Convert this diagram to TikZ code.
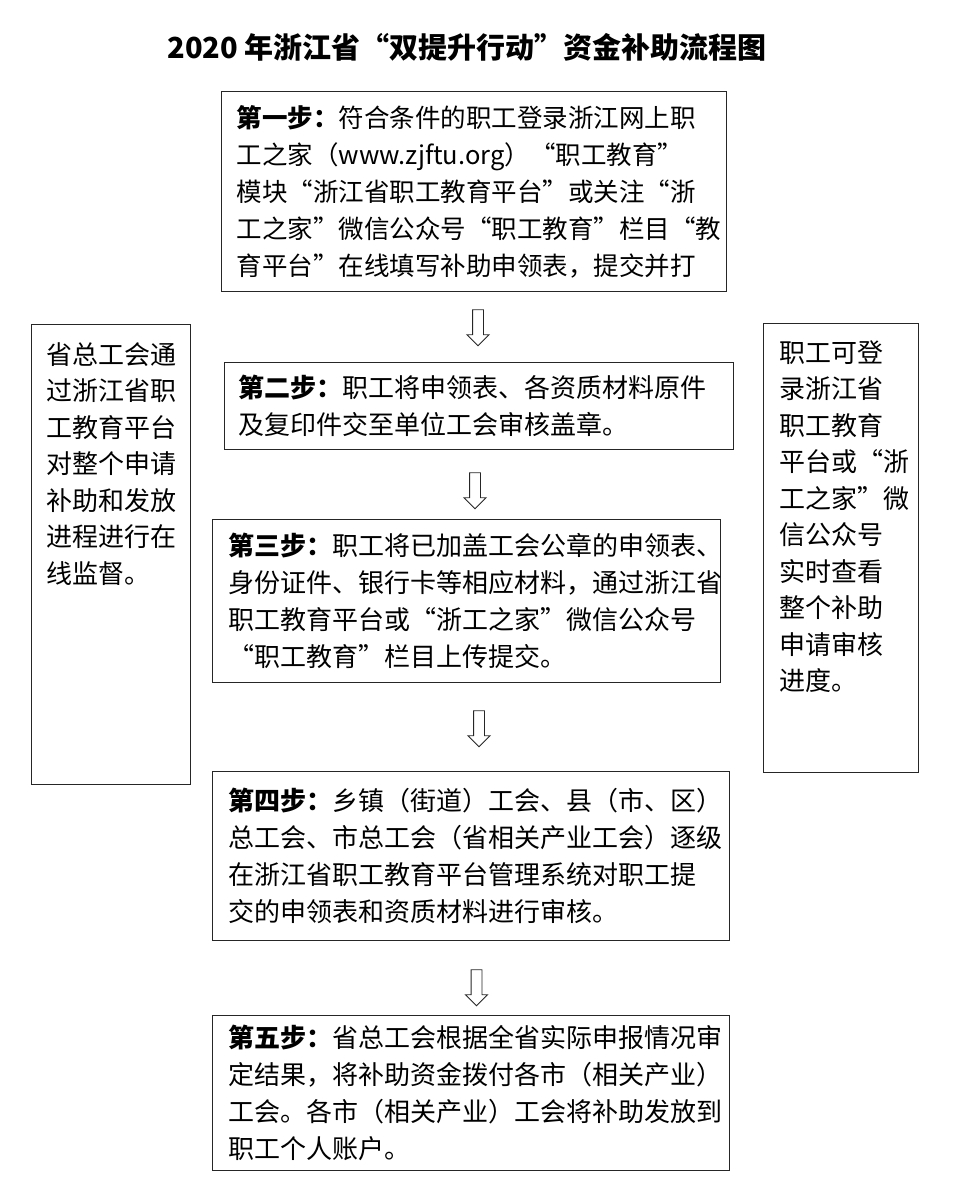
\documentclass[tikz,border=0pt]{standalone}
\usepackage{fontspec}
\setmainfont{Noto Sans CJK SC}
\usetikzlibrary{shapes.arrows}

\begin{document}
\begin{tikzpicture}[x=1pt, y=-1pt,
    stepbox/.style={draw=black!85, line width=1.3pt, anchor=north west, align=left,
        inner ysep=0pt, font=\fontsize{26}{37}\selectfont},
    sidebox/.style={draw=black!85, line width=1.3pt, anchor=north west,
        font=\fontsize{26}{36.5}\selectfont},
    downarrow/.style={draw=black!85, line width=0.9pt, single arrow, shape border rotate=270,
        minimum height=36pt, minimum width=21pt, single arrow head extend=5.5pt, inner sep=5pt}]
    \useasboundingbox (0,0) rectangle (953,1193);

    \node[font=\fontsize{29}{34}\selectfont\bfseries] (title) at (467,47)
        {2020 年浙江省“双提升行动”资金补助流程图};

    % main steps
    \node[stepbox, inner xsep=15pt, text width=475pt, minimum height=200pt,
        font=\fontsize{25.5}{37}\selectfont] (step1) at (221,91)
        {\textbf{第一步：}符合条件的职工登录浙江网上职\\
         工之家（www.zjftu.org）“职工教育”\\
         模块“浙江省职工教育平台”或关注“浙\\
         工之家”微信公众号“职工教育”栏目“教\\
         育平台”在线填写补助申领表，提交并打};
    \node[stepbox, inner xsep=14pt, text width=481pt, minimum height=87pt] (step2) at (224,362)
        {\textbf{第二步：}职工将申领表、各资质材料原件\\
         及复印件交至单位工会审核盖章。};
    \node[stepbox, inner xsep=16pt, text width=476pt, minimum height=163pt] (step3) at (212,519)
        {\textbf{第三步：}职工将已加盖工会公章的申领表、\\
         身份证件、银行卡等相应材料，通过浙江省\\
         职工教育平台或“浙工之家”微信公众号\\
         “职工教育”栏目上传提交。};
    \node[stepbox, inner xsep=16pt, text width=485pt, minimum height=169pt] (step4) at (212,771)
        {\textbf{第四步：}乡镇（街道）工会、县（市、区）\\
         总工会、市总工会（省相关产业工会）逐级\\
         在浙江省职工教育平台管理系统对职工提\\
         交的申领表和资质材料进行审核。};
    \node[stepbox, inner xsep=16pt, text width=485pt, minimum height=155pt] (step5) at (212,1015)
        {\textbf{第五步：}省总工会根据全省实际申报情况审\\
         定结果，将补助资金拨付各市（相关产业）\\
         工会。各市（相关产业）工会将补助发放到\\
         职工个人账户。};

    % hollow arrows between the steps
    \node[downarrow] (arr1) at (478,325) {};
    \node[downarrow] (arr2) at (475,488) {};
    \node[downarrow] (arr3) at (479,726) {};
    \node[downarrow] (arr4) at (476.5,985) {};

    % side notes
    \node[sidebox, inner xsep=14.5pt, inner ysep=18pt] (monitor) at (31,324)
        {\parbox[c][424pt][t]{130pt}{省总工会通\\过浙江省职\\工教育平台\\对整个申请\\补助和发放\\进程进行在\\线监督。}};
    \node[sidebox, inner xsep=15.5pt, inner ysep=17pt] (query) at (763,323)
        {\parbox[c][415pt][t]{124pt}{职工可登\\录浙江省\\职工教育\\平台或“浙\\工之家”微\\信公众号\\实时查看\\整个补助\\申请审核\\进度。}};
\end{tikzpicture}
\end{document}
